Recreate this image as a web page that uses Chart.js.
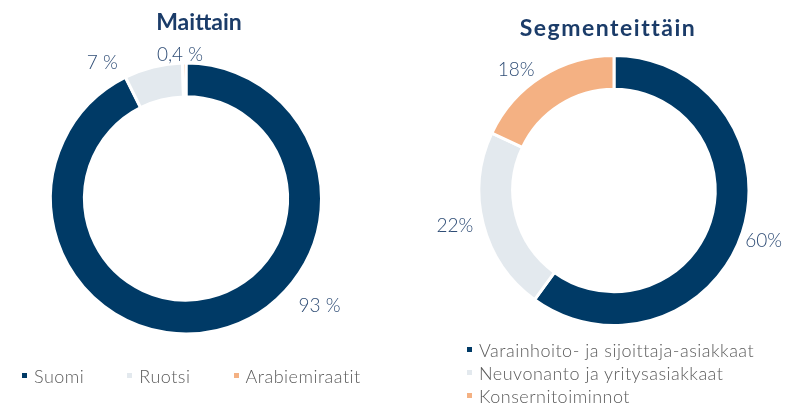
<!DOCTYPE html>
<html>
<head>
<meta charset="utf-8">
<script src="https://cdn.jsdelivr.net/npm/chart.js@4.4.1/dist/chart.umd.min.js"></script>
<style>
  html, body { margin: 0; padding: 0; background: #fff; }
  #wrap { position: relative; width: 794px; height: 406px; overflow: hidden; font-family: Lato, "Open Sans", sans-serif; }
  canvas { position: absolute; top: 0; }
  .title { position: absolute; height: 30px; line-height: 30px; font-size: 23px; font-weight: 700; color: #1b3c69; text-align: center; white-space: nowrap; }
  .legend { position: absolute; font-size: 18px; font-weight: 300; letter-spacing: 0.5px; color: #5b5b5b; white-space: nowrap; }
  .legend .item { display: flex; align-items: center; height: 23px; }
  .legend .box { width: 5px; height: 5px; margin-right: 7px; flex: none; }
</style>
</head>
<body>
<div id="wrap">
  <canvas id="countryChart" width="397" height="406" style="left:0"></canvas>
  <canvas id="segmentChart" width="397" height="406" style="left:397px"></canvas>
  <div class="title" style="left:99px;width:200px;top:6px">Maittain</div>
  <div class="title" style="left:508px;width:200px;top:12px;letter-spacing:1.5px">Segmenteittäin</div>
  <div class="legend" id="countryLegend" style="left:22px;top:364px;display:flex;gap:0 43px"></div>
  <div class="legend" id="segmentLegend" style="left:467px;top:338px"></div>
</div>
<script>
// data
const countryLabels = ['Suomi', 'Ruotsi', 'Arabiemiraatit'];
const countryValues = [93, 7, 0.4];
const countryTexts = ['93 %', '7 %', '0,4 %'];

const segmentLabels = ['Varainhoito- ja sijoittaja-asiakkaat', 'Neuvonanto ja yritysasiakkaat', 'Konsernitoiminnot'];
const segmentValues = [60, 22, 18];
const segmentTexts = ['60%', '22%', '18%'];

const colors = ['#003a66', '#e3e9ee', '#f4b183'];

// tekstit kaaren ulkopuolelle
const sliceLabels = {
    id: 'sliceLabels',
    afterDatasetsDraw(chart, args, opts) {
        const ctx = chart.ctx;
        const arc = chart.getDatasetMeta(0).data[0];
        ctx.save();
        ctx.font = '300 19px Lato, sans-serif';
        ctx.fillStyle = '#2f4d76';
        ctx.textAlign = 'center';
        ctx.textBaseline = 'middle';
        opts.texts.forEach((t, i) => {
            const a = opts.pos[i][0] * Math.PI / 180;
            const r = opts.pos[i][1];
            ctx.fillText(t, arc.x + r * Math.sin(a), arc.y - r * Math.cos(a));
        });
        ctx.restore();
    }
};

function donut(id, labels, values, texts, pos, padding) {
    return new Chart(document.getElementById(id), {
        type: 'doughnut',
        data: {
            labels: labels,
            datasets: [{
                data: values,
                backgroundColor: colors,
                borderColor: '#ffffff',
                borderWidth: 3
            }]
        },
        options: {
            responsive: false,
            animation: false,
            cutout: '75%',
            layout: { padding: padding },
            plugins: {
                legend: { display: false },
                tooltip: { enabled: false },
                sliceLabels: { texts: texts, pos: pos }
            }
        },
        plugins: [sliceLabels]
    });
}

donut('countryChart', countryLabels, countryValues, countryTexts,
    [[128.7, 171], [328.2, 159], [357.6, 143.5]],
    { left: 0, right: 25, top: 61.5, bottom: 70.5 });

donut('segmentChart', segmentLabels, segmentValues, segmentTexts,
    [[108.6, 158], [257.6, 163], [320.9, 155]],
    { left: 37, right: 0, top: 54, bottom: 79 });

// selitteet
function legend(id, labels) {
    const el = document.getElementById(id);
    labels.forEach((l, i) => {
        const item = document.createElement('div');
        item.className = 'item';
        item.innerHTML = '<span class="box" style="background:' + colors[i] + '"></span><span>' + l + '</span>';
        el.appendChild(item);
    });
}
legend('countryLegend', countryLabels);
legend('segmentLegend', segmentLabels);
</script>
</body>
</html>
